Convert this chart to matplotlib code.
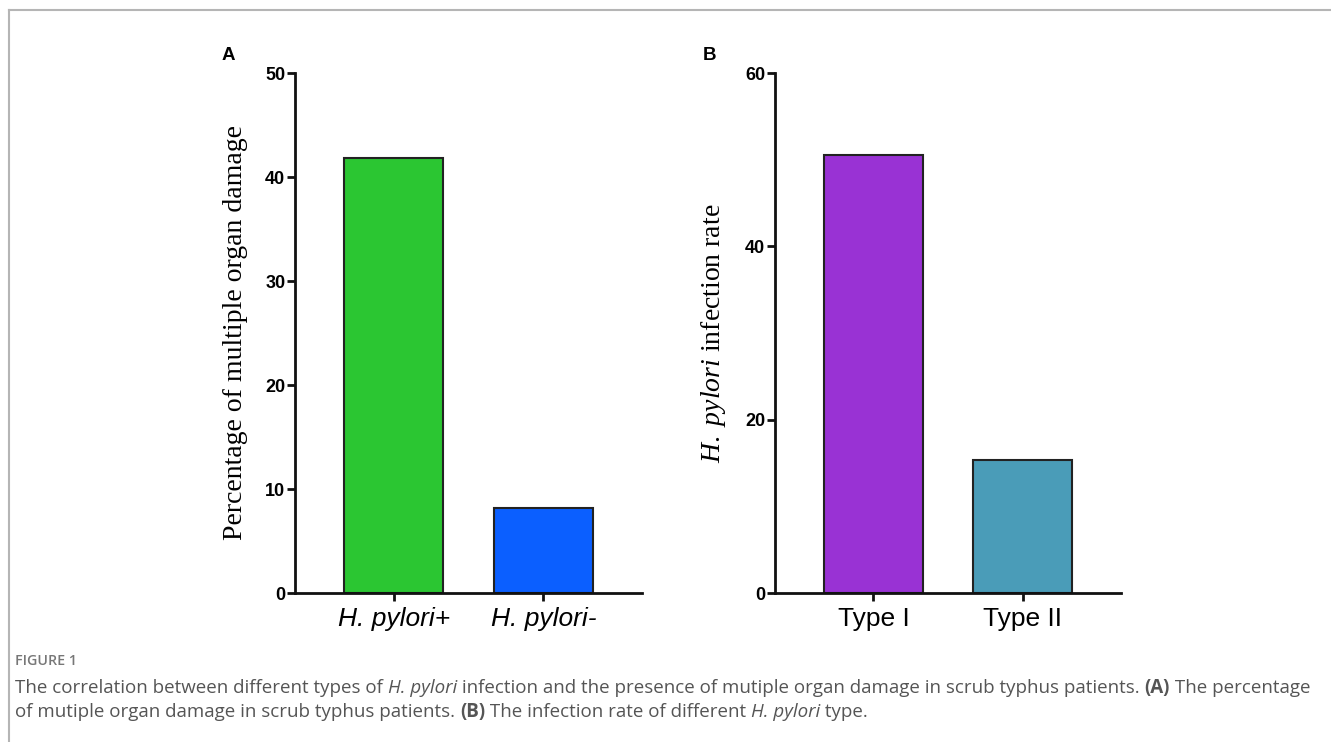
import matplotlib
matplotlib.use("Agg")
import matplotlib.pyplot as plt
from matplotlib.lines import Line2D

plt.rcParams['mathtext.fontset'] = 'custom'
plt.rcParams['mathtext.rm'] = 'Liberation Serif'
plt.rcParams['mathtext.it'] = 'Liberation Serif:italic'

# Data
cats_a = ["H. pylori+", "H. pylori-"]
vals_a = [41.8, 8.2]
colors_a = ["#2BC632", "#0B5FFF"]

cats_b = ["Type I", "Type II"]
vals_b = [50.5, 15.3]
colors_b = ["#9932D4", "#4A9CB8"]

W, H = 1331, 742
fig = plt.figure(figsize=(W / 100, H / 100), dpi=100)

def style_ax(ax, ymax, step):
    for s in ['top', 'right']:
        ax.spines[s].set_visible(False)
    for s in ['left', 'bottom']:
        ax.spines[s].set_linewidth(2)
        ax.spines[s].set_color('#111111')
    ax.set_ylim(0, ymax)
    ax.set_xlim(-0.66, 1.66)
    ax.set_yticks(range(0, ymax + 1, step))
    ax.tick_params(axis='both', direction='out', length=6, width=2, color='#111111')
    for lab in ax.get_yticklabels():
        lab.set_fontfamily('Liberation Sans')
        lab.set_fontweight('bold')
        lab.set_fontsize(13)
    ax.tick_params(axis='y', pad=1)
    ax.tick_params(axis='x', pad=4)

# Panel A
axA = fig.add_axes([295 / W, 1 - 593 / H, (642 - 295) / W, (593 - 73) / H])
axA.bar(range(len(cats_a)), vals_a, width=0.66, color=colors_a, edgecolor='#222222', linewidth=1.5)
axA.set_xticks(range(len(cats_a)))
axA.set_xticklabels(cats_a, fontfamily='Liberation Sans', fontstyle='italic', fontsize=19)
style_ax(axA, 50, 10)
axA.set_ylabel("Percentage of multiple organ damage", fontfamily='Liberation Serif', fontsize=20, labelpad=12)

# Panel B
axB = fig.add_axes([775 / W, 1 - 593 / H, (1121 - 775) / W, (593 - 73) / H])
axB.bar(range(len(cats_b)), vals_b, width=0.66, color=colors_b, edgecolor='#222222', linewidth=1.5)
axB.set_xticks(range(len(cats_b)))
axB.set_xticklabels(cats_b, fontfamily='Liberation Sans', fontsize=19)
style_ax(axB, 60, 20)
axB.set_ylabel(r"$H.\ pylori$ infection rate", fontfamily='Liberation Serif', fontsize=20, labelpad=12)

# Panel letters
fig.text(228 / W, 1 - 55 / H, "A", fontfamily='Liberation Sans', fontweight='bold', fontsize=13.5, ha='center', va='center')
fig.text(710 / W, 1 - 55 / H, "B", fontfamily='Liberation Sans', fontweight='bold', fontsize=13.5, ha='center', va='center')

# Border lines
fig.add_artist(Line2D([9 / W, 9 / W], [0, 1 - 10 / H], transform=fig.transFigure, color='#b5b5b5', linewidth=1.5))
fig.add_artist(Line2D([9 / W, 1], [1 - 10 / H, 1 - 10 / H], transform=fig.transFigure, color='#b5b5b5', linewidth=1.5))

# Caption
cap_color = '#555555'
fig.text(15 / W, 1 - 661 / H, "FIGURE 1", fontfamily='Open Sans', fontweight='semibold', fontsize=10.3,
         color='#777777', ha='left', va='center')

def chain(x_px, y_px, segments, size=13.5):
    renderer = fig.canvas.get_renderer()
    x = x_px
    for txt, st in segments:
        kw = dict(fontfamily='Open Sans', fontsize=size, color=cap_color, va='baseline', ha='left')
        if st == 'i':
            kw['fontstyle'] = 'italic'
        elif st == 'b':
            kw['fontweight'] = 'bold'
        t = fig.text(x / W, 1 - y_px / H, txt, **kw)
        bb = t.get_window_extent(renderer=renderer)
        x = x + bb.width

line1 = [("The correlation between different types of ", ''), ("H. pylori", 'i'),
         (" infection and the presence of mutiple organ damage in scrub typhus patients. ", ''),
         ("(A)", 'b'), (" The percentage", '')]
line2 = [("of mutiple organ damage in scrub typhus patients. ", ''), ("(B)", 'b'),
         (" The infection rate of different ", ''), ("H. pylori", 'i'), (" type.", '')]
chain(15, 693, line1)
chain(15, 717, line2)

fig.savefig("out.png", dpi=100)
